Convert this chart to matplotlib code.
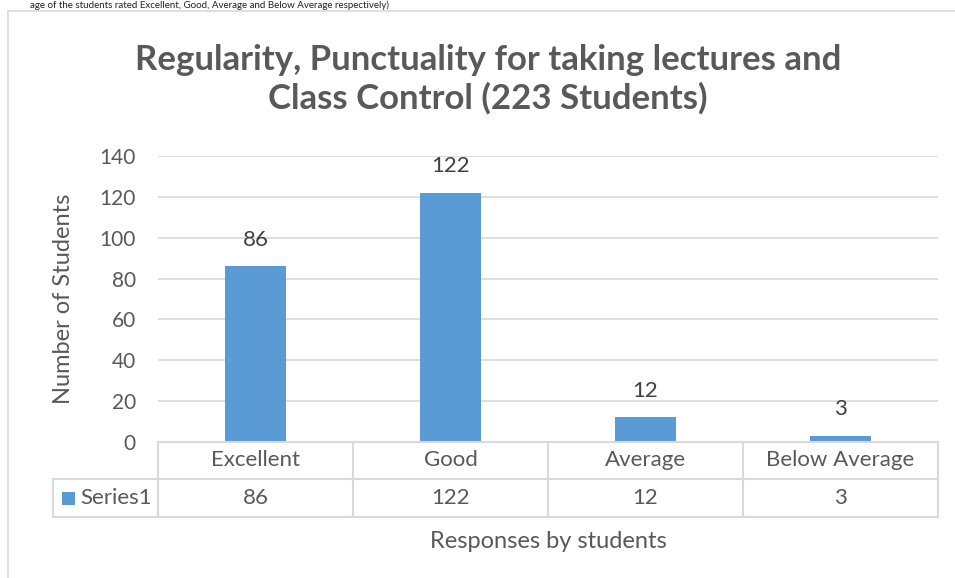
import matplotlib.pyplot as plt
from matplotlib.lines import Line2D
from matplotlib.patches import Rectangle

# 数据
categories = ['Excellent', 'Good', 'Average', 'Below Average']
students = [86, 122, 12, 3]
series_name = 'Series1'
yticks = [0, 20, 40, 60, 80, 100, 120, 140]

BAR_COLOR = '#5B9BD5'
TEXT_COLOR = '#595959'
LABEL_COLOR = '#404040'
GRID_COLOR = '#D9D9D9'
FONT = 'Lato'
FS = 16

W, H = 955, 578
fig = plt.figure(figsize=(W / 100, H / 100), dpi=100)
plt.rcParams['font.family'] = [FONT, 'DejaVu Sans']


def fx(px):
    return px / W


def fy(py):
    return 1 - py / H


# 顶部正文（原图中被裁掉一半）
fig.text(fx(30), fy(0), 'age of the students rated Excellent, Good, Average and Below Average respectively)',
         ha='left', va='top', fontsize=7, color='#222222')

# 图表外框
fig.add_artist(Rectangle((fx(8), fy(H + 20)), 1.2, fy(11) - fy(H + 20), transform=fig.transFigure,
                         facecolor='none', edgecolor=GRID_COLOR, linewidth=1.2))

# 绘图区
left, right, top, bottom = 158, 938, 156, 442
ax = fig.add_axes([fx(left), fy(bottom), fx(right) - fx(left), fy(top) - fy(bottom)])
x = range(len(categories))
bars = ax.bar(x, students, width=0.31, color=BAR_COLOR, zorder=3)
ax.set_xlim(-0.5, len(categories) - 0.5)
ax.set_ylim(0, 140)
ax.set_yticks(yticks)
ax.tick_params(axis='y', length=0, labelsize=FS - 1, labelcolor=TEXT_COLOR, pad=16)
ax.set_xticks([])
ax.grid(True, axis='y', color=GRID_COLOR, linewidth=1.2, zorder=0)
for s in ax.spines.values():
    s.set_visible(False)

for xi, v in zip(x, students):
    ax.annotate(str(v), (xi, v), xytext=(0, 12), textcoords='offset points',
                ha='center', va='bottom', fontsize=FS, color=LABEL_COLOR)

ax.set_ylabel('Number of Students', fontsize=FS + 1, color=TEXT_COLOR, labelpad=18)

# 数据表
row1, row2, row3 = 442, 479, 517
leg_left = 53
col_w = (right - left) / len(categories)
lines = [
    ((left, right), (row1, row1)),
    ((leg_left, right), (row2, row2)),
    ((leg_left, right), (row3, row3)),
    ((leg_left, leg_left), (row2, row3)),
]
for i in range(len(categories) + 1):
    cx = left + i * col_w
    lines.append(((cx, cx), (row1, row3)))
for (x0, x1), (y0, y1) in lines:
    fig.add_artist(Line2D([fx(x0), fx(x1)], [fy(y0), fy(y1)], transform=fig.transFigure,
                          color=GRID_COLOR, linewidth=1.5))

for i, (cat, v) in enumerate(zip(categories, students)):
    cx = left + (i + 0.5) * col_w
    fig.text(fx(cx), fy((row1 + row2) / 2), cat, ha='center', va='center', fontsize=FS, color=TEXT_COLOR)
    fig.text(fx(cx), fy((row2 + row3) / 2), str(v), ha='center', va='center', fontsize=FS, color=TEXT_COLOR)

fig.add_artist(Rectangle((fx(62), fy(505)), fx(13), fy(492) - fy(505), transform=fig.transFigure,
                         facecolor=BAR_COLOR, edgecolor='none'))
fig.text(fx(80), fy((row2 + row3) / 2), series_name, ha='left', va='center', fontsize=FS, color=TEXT_COLOR)

fig.text(fx((left + right) / 2), fy(541), 'Responses by students', ha='center', va='center',
         fontsize=FS + 1, color=TEXT_COLOR)

# 标题
fig.text(fx(488), fy(79), 'Regularity, Punctuality for taking lectures and\nClass Control (223 Students)',
         ha='center', va='center', fontsize=25, fontweight='bold', color=TEXT_COLOR, linespacing=1.22)

fig.savefig('out.png', dpi=100)
